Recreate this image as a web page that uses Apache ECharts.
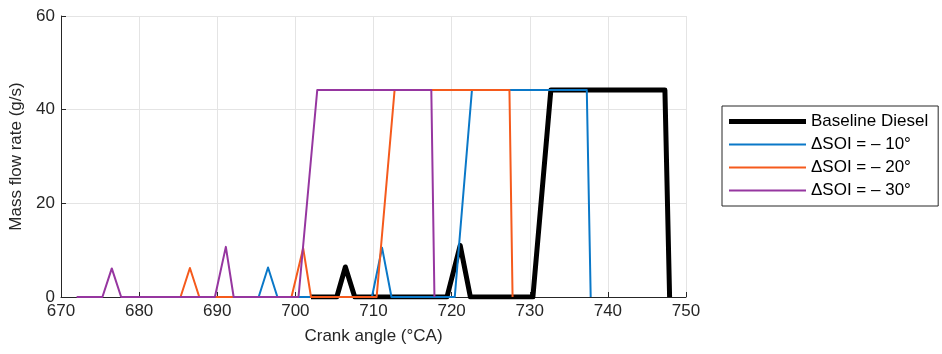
<!DOCTYPE html>
<html>
<head>
<meta charset="utf-8">
<title>Mass flow rate vs crank angle</title>
<script src="https://cdn.jsdelivr.net/npm/echarts@6/dist/echarts.min.js"></script>
<style>
  html, body { margin: 0; padding: 0; background: #ffffff; }
  #chart { width: 942px; height: 354px; }
</style>
</head>
<body>
<div id="chart"></div>
<script>
// Injection profiles: crank angle (°CA) and mass flow rate (g/s)
const baselineAngle = [702, 705.3, 706.4, 707.6, 719.4, 721.1, 722.4, 730.4, 732.7, 747.3, 747.9];
const baselineFlow  = [0,   0,     6.4,   0,     0,     11.0,  0,     0,     44.2,  44.2,  0];

const soi10Angle = [692, 695.3, 696.5, 697.7, 709.8, 711.1, 712.3, 720.4, 722.6, 737.3, 737.8];
const soi10Flow  = [0,   0,     6.3,   0,     0,     10.5,  0,     0,     44.2,  44.2,  0];

const soi20Angle = [682, 685.3, 686.5, 687.7, 699.5, 701.0, 702.0, 710.4, 712.7, 727.4, 727.8];
const soi20Flow  = [0,   0,     6.2,   0,     0,     10.4,  0,     0,     44.2,  44.2,  0];

const soi30Angle = [672, 675.3, 676.5, 677.7, 689.7, 691.1, 692.1, 700.4, 702.8, 717.4, 717.8];
const soi30Flow  = [0,   0,     6.1,   0,     0,     10.7,  0,     0,     44.2,  44.2,  0];

const seriesNames = ['Baseline Diesel', 'ΔSOI = – 10°', 'ΔSOI = – 20°', 'ΔSOI = – 30°'];

const xTicks = { min: 670, max: 750, interval: 10 };
const yTicks = { min: 0, max: 60, interval: 20 };

const zip = (xs, ys) => xs.map((x, i) => [x, ys[i]]);

const FONT = '"Liberation Sans", Arial, Helvetica, sans-serif';
const TEXT = '#262626';

const styles = [
  { color: '#000000', width: 5 },
  { color: '#0a78c8', width: 2 },
  { color: '#f55a1c', width: 2 },
  { color: '#9636a0', width: 2 }
];

function lineSeries(name, data, style) {
  return {
    name: name,
    type: 'line',
    data: data,
    symbol: 'none',
    showSymbol: false,
    animation: false,
    lineStyle: { color: style.color, width: style.width, join: 'round' },
    itemStyle: { color: style.color }
  };
}

// Legend swatch: a flat bar as thick as the series line
function legendBar(width) {
  return 'path://M0,0H77V' + width + 'H0Z';
}

const chart = echarts.init(document.getElementById('chart'), null, { renderer: 'canvas' });

chart.setOption({
  animation: false,
  backgroundColor: '#ffffff',
  textStyle: { fontFamily: FONT },
  grid: { left: 61, right: 256, top: 16, bottom: 57, containLabel: false },
  xAxis: {
    type: 'value',
    min: xTicks.min, max: xTicks.max, interval: xTicks.interval,
    name: 'Crank angle (°CA)',
    nameLocation: 'middle',
    nameGap: 31,
    nameTextStyle: { color: TEXT, fontSize: 17, fontFamily: FONT },
    axisLine: { show: true, onZero: false, lineStyle: { color: TEXT, width: 1 } },
    axisTick: { show: true, inside: true, length: 5, lineStyle: { color: TEXT } },
    axisLabel: { color: TEXT, fontSize: 17, fontFamily: FONT, margin: 6 },
    splitLine: { show: true, lineStyle: { color: '#e4e4e4', width: 1 } }
  },
  yAxis: {
    type: 'value',
    min: yTicks.min, max: yTicks.max, interval: yTicks.interval,
    name: 'Mass flow rate (g/s)',
    nameLocation: 'middle',
    nameGap: 30,
    nameTextStyle: { color: TEXT, fontSize: 17, fontFamily: FONT },
    axisLine: { show: true, lineStyle: { color: TEXT, width: 1 } },
    axisTick: { show: true, inside: true, length: 5, lineStyle: { color: TEXT } },
    axisLabel: { color: TEXT, fontSize: 17, fontFamily: FONT, margin: 6 },
    splitLine: { show: true, lineStyle: { color: '#e4e4e4', width: 1 } }
  },
  legend: {
    orient: 'vertical',
    left: 722,
    top: 106,
    width: 219,
    data: seriesNames.map((n, i) => ({
      name: n,
      icon: legendBar(styles[i].width),
      itemStyle: { color: styles[i].color, borderWidth: 0 }
    })),
    itemWidth: 77,
    itemHeight: 14,
    itemGap: 6,
    symbolKeepAspect: true,
    padding: [7, 10, 7, 7],
    borderColor: TEXT,
    borderWidth: 1,
    textStyle: { color: '#000000', fontSize: 17, fontFamily: FONT },
    selectedMode: false
  },
  series: seriesNames.map((n, i) => lineSeries(n,
    zip([baselineAngle, soi10Angle, soi20Angle, soi30Angle][i],
        [baselineFlow, soi10Flow, soi20Flow, soi30Flow][i]),
    styles[i]))
});
</script>
</body>
</html>
